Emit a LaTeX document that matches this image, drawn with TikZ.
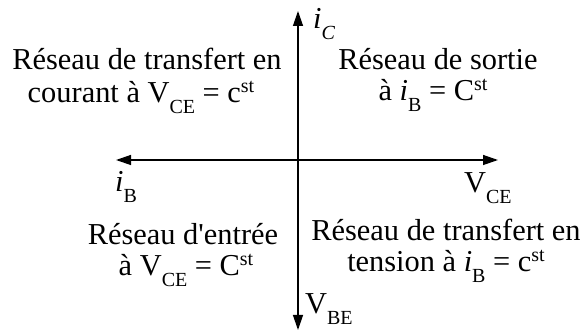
\documentclass[tikz,border=0pt]{standalone}
\usepackage{fontspec}
\setmainfont{Liberation Serif}[Ligatures=TeXOff]
\usetikzlibrary{arrows.meta}
\newcommand\lsub[1]{\raisebox{-0.34em}{\fontsize{20}{20}\selectfont #1}}
\newcommand\lsup[1]{\raisebox{0.34em}{\fontsize{20}{20}\selectfont #1}}
\begin{document}
\begin{tikzpicture}[x=1pt,y=-1pt,
  lbl/.style={anchor=base, inner sep=0pt, font=\fontsize{30.4}{33}\selectfont},
  axlbl/.style={anchor=base west, inner sep=0pt, font=\fontsize{30.4}{33}\selectfont},
  axis/.style={-{Triangle[length=15pt,width=10pt]}, line width=1.3pt}]
\useasboundingbox (0,0) rectangle (582,331);
\coordinate (O) at (298,160);
\coordinate (top) at (298,11);
\coordinate (bot) at (298,330);
\coordinate (left) at (116,160);
\coordinate (right) at (498,160);
\draw[axis] (O) -- (top);
\draw[axis] (O) -- (bot);
\draw[axis] (O) -- (left);
\draw[axis] (O) -- (right);
% axis labels
\node[axlbl] (iC) at (313,29) {\textit{i}\lsub{\textit{C}}};
\node[axlbl] (iB) at (115,192) {\textit{i}\lsub{B}};
\node[axlbl] (VCE) at (464,193) {V\lsub{CE}};
\node[axlbl] (VBE) at (305,314) {V\lsub{BE}};
% quadrant labels
\node[lbl] (tl1) at (147,70) {Réseau de transfert en};
\node[lbl] (tl2) at (141,103) {courant à V\lsub{CE} = c\lsup{st}};
\node[lbl] (tr1) at (438,70) {Réseau de sortie};
\node[lbl] (tr2) at (433,101) {à \textit{i}\lsub{B} = C\lsup{st}};
\node[lbl] (bl1) at (183,245) {Réseau d'entrée};
\node[lbl] (bl2) at (186,276) {à V\lsub{CE} = C\lsup{st}};
\node[lbl] (br1) at (446,241) {Réseau de transfert en};
\node[lbl] (br2) at (446,272) {tension à \textit{i}\lsub{B} = c\lsup{st}};
\end{tikzpicture}
\end{document}
